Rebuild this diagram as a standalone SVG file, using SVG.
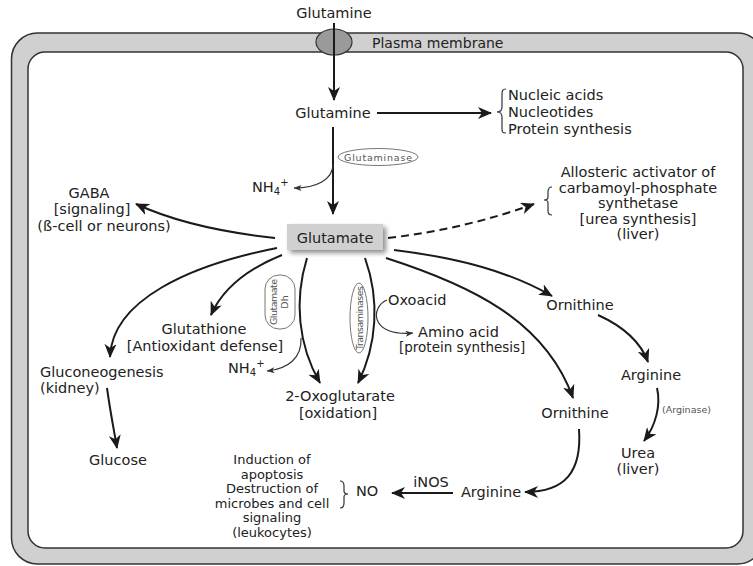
<svg xmlns="http://www.w3.org/2000/svg" width="753" height="566" viewBox="0 0 753 566">
<defs>
<marker id="ah" viewBox="0 0 14 12" refX="13" refY="6" markerWidth="14" markerHeight="12" orient="auto" markerUnits="userSpaceOnUse"><path d="M0,0 L14,6 L0,12 L4,6 z" fill="#1a1a1a"/></marker>
<marker id="ahs" viewBox="0 0 8 6" refX="7.5" refY="3" markerWidth="8" markerHeight="6" orient="auto" markerUnits="userSpaceOnUse"><path d="M0,0 L8,3 L0,6 L2,3 z" fill="#333"/></marker>
<filter id="sh" x="-20%" y="-40%" width="150%" height="200%"><feGaussianBlur in="SourceAlpha" stdDeviation="2.5"/><feOffset dx="3" dy="3" result="b"/><feComponentTransfer><feFuncA type="linear" slope="0.45"/></feComponentTransfer><feMerge><feMergeNode/><feMergeNode in="SourceGraphic"/></feMerge></filter>
</defs>
<style>
text{font-family:"DejaVu Sans","Liberation Sans",sans-serif;font-size:14.5px;fill:#222}
.m{text-anchor:middle}
.sm{font-size:9.5px;fill:#555}
.lk{font-size:13px}
.c{fill:none;stroke:#1a1a1a;stroke-width:2}
.cs{fill:none;stroke:#333;stroke-width:1.2}
.br{fill:none;stroke:#333;stroke-width:1.2}
.lab{fill:#fff;stroke:#777;stroke-width:1}
</style>
<rect x="0" y="0" width="753" height="566" fill="#fff"/>
<g id="membrane">
<rect x="11.5" y="33" width="752" height="531" rx="26" fill="#d0d0d0" stroke="#333" stroke-width="1.5"/>
<rect x="28" y="52" width="715" height="496" rx="17" fill="#fff" stroke="#333" stroke-width="1.5"/>
<ellipse cx="334" cy="42" rx="18" ry="13" fill="#9a9a9a" stroke="#333" stroke-width="1.2"/>
<text x="372" y="48" style="font-size:14px">Plasma membrane</text>
</g>
<g id="connectors">
<path class="c" d="M334,23 L334,100" marker-end="url(#ah)"/>
<path class="c" d="M377,113 L491,113" marker-end="url(#ah)"/>
<path class="c" d="M333,127 L333,214" marker-end="url(#ah)"/>
<path class="cs" d="M333,164 C333,180 316,188 294,188" marker-end="url(#ahs)"/>
<path class="c" d="M275,238 C220,232 175,222 136,204" marker-end="url(#ah)"/>
<path class="c" d="M277,248 C190,265 112,300 110,357" marker-end="url(#ah)"/>
<path class="c" d="M282,255 C245,270 222,290 211,315" marker-end="url(#ah)"/>
<path class="c" d="M307,258 C294,300 298,345 320,383" marker-end="url(#ah)"/>
<path class="cs" d="M301,338 C302,358 288,369 267,371" marker-end="url(#ahs)"/>
<path class="c" d="M365,258 C380,300 377,345 358,383" marker-end="url(#ah)"/>
<path class="cs" d="M387,300 C370,307 370,337 413,333" marker-end="url(#ahs)"/>
<path class="c" d="M388,238 C440,232 490,220 534,204" stroke-dasharray="8,5" marker-end="url(#ah)"/>
<path class="c" d="M394,250 C460,258 510,272 552,296" marker-end="url(#ah)"/>
<path class="c" d="M386,258 C470,285 545,320 573,398" marker-end="url(#ah)"/>
<path class="c" d="M598,315 C620,325 640,340 648,362" marker-end="url(#ah)"/>
<path class="c" d="M657,388 C661,405 656,425 644,441" marker-end="url(#ah)"/>
<path class="c" d="M579,429 C582,472 565,492 525,492" marker-end="url(#ah)"/>
<path class="c" d="M453,493 L392,493" marker-end="url(#ah)"/>
<path class="c" d="M107,388 C110,410 113,425 117,448" marker-end="url(#ah)"/>
</g>
<g id="glutamine-out"><text class="m" x="334" y="18">Glutamine</text></g>
<g id="glutamine-in"><text class="m" x="333" y="118">Glutamine</text></g>
<g id="nucleic">
<path class="br" d="M506,89 C502,89 502,91 502,95 L502,107 C502,111 500,112 497,112 C500,112 502,113 502,117 L502,128 C502,132 502,133 506,133"/>
<text x="508" y="100">Nucleic acids</text>
<text x="508" y="117">Nucleotides</text>
<text x="508" y="134">Protein synthesis</text>
</g>
<g id="glutaminase">
<ellipse class="lab" cx="378" cy="157" rx="40" ry="8.5"/>
<text class="m sm" x="378" y="160.5" textLength="68">Glutaminase</text>
</g>
<g id="nh4-a"><text x="252" y="192">NH<tspan style="font-size:10px" dy="3">4</tspan><tspan style="font-size:10px" dy="-9">+</tspan></text></g>
<g id="glutamate">
<rect x="287" y="224" width="96" height="26" fill="#d0d0d0" filter="url(#sh)"/>
<text class="m" x="335" y="243">Glutamate</text>
</g>
<g id="gaba">
<text class="m" x="89" y="198">GABA</text>
<text class="m" x="92" y="214">[signaling]</text>
<text class="m" x="104" y="231">(ß-cell or neurons)</text>
</g>
<g id="allosteric">
<path class="br" d="M552,187 C549,187 548,189 548,192 L548,197 C548,199 547,200 544,200 C547,200 548,201 548,203 L548,211 C548,214 549,215 552,215"/>
<text class="m" x="638" y="177">Allosteric activator of</text>
<text class="m" x="638" y="193">carbamoyl-phosphate</text>
<text class="m" x="638" y="208">synthetase</text>
<text class="m" x="638" y="224">[urea synthesis]</text>
<text class="m" x="638" y="239">(liver)</text>
</g>
<g id="glutamate-dh">
<rect class="lab" x="265" y="275" width="30" height="54" rx="14"/>
<text class="m sm" transform="translate(277,302) rotate(-90)" textLength="46">Glutamate</text>
<text class="m sm" transform="translate(288,302) rotate(-90)">Dh</text>
</g>
<g id="transaminases">
<ellipse class="lab" cx="359" cy="318" rx="9" ry="35"/>
<text class="m sm" transform="translate(362.5,318) rotate(-90)" textLength="64">Transaminases</text>
</g>
<g id="glutathione">
<text class="m" x="204" y="334">Glutathione</text>
<text class="m" x="205" y="351">[Antioxidant defense]</text>
</g>
<g id="nh4-b"><text x="228" y="373">NH<tspan style="font-size:10px" dy="3">4</tspan><tspan style="font-size:10px" dy="-9">+</tspan></text></g>
<g id="oxoglutarate">
<text class="m" x="340" y="401">2-Oxoglutarate</text>
<text class="m" x="338" y="418">[oxidation]</text>
</g>
<g id="oxoacid">
<text x="388" y="305">Oxoacid</text>
<text x="418" y="337">Amino acid</text>
<text x="399" y="352" style="font-size:13.5px">[protein synthesis]</text>
</g>
<g id="gluconeogenesis">
<text x="40" y="377">Gluconeogenesis</text>
<text x="40" y="393">(kidney)</text>
</g>
<g id="glucose"><text class="m" x="118" y="465">Glucose</text></g>
<g id="ornithine-1"><text class="m" x="580" y="310">Ornithine</text></g>
<g id="arginine-1"><text class="m" x="651" y="380">Arginine</text></g>
<g id="arginase"><text class="sm" x="662" y="413">(Arginase)</text></g>
<g id="urea">
<text class="m" x="638" y="458">Urea</text>
<text class="m" x="638" y="474">(liver)</text>
</g>
<g id="ornithine-2"><text class="m" x="575" y="418">Ornithine</text></g>
<g id="arginine-2"><text class="m" x="491" y="497">Arginine</text></g>
<g id="inos"><text class="m" x="431" y="487">iNOS</text></g>
<g id="no">
<path class="br" d="M340,481 C343,481 344,483 344,486 L344,491 C344,493 345,494 348,494 C345,494 344,495 344,497 L344,503 C344,506 343,508 340,508"/>
<text x="356" y="496">NO</text>
</g>
<g id="leukocytes">
<text class="m lk" x="272" y="464">Induction of</text>
<text class="m lk" x="272" y="478.5">apoptosis</text>
<text class="m lk" x="272" y="493">Destruction of</text>
<text class="m lk" x="272" y="507.5">microbes and cell</text>
<text class="m lk" x="272" y="522">signaling</text>
<text class="m lk" x="272" y="536.5">(leukocytes)</text>
</g>
</svg>
